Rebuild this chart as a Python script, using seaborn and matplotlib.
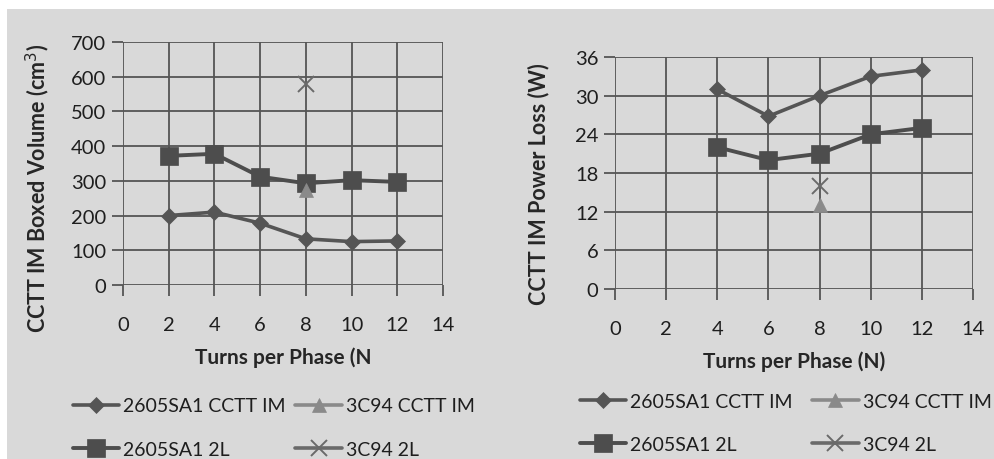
import matplotlib
matplotlib.use('Agg')
import matplotlib.pyplot as plt
from matplotlib.patches import Rectangle
import seaborn as sns

# dados
turns_vol = [2, 4, 6, 8, 10, 12]
vol_sa1_cctt = [200, 210, 178, 133, 125, 127]
vol_sa1_2l = [372, 378, 312, 293, 302, 297]
turns_3c94 = [8]
vol_3c94_cctt = [275]
vol_3c94_2l = [578]

turns_loss = [4, 6, 8, 10, 12]
loss_sa1_cctt = [31, 26.8, 30, 33, 34]
loss_sa1_2l = [22, 20, 21, 24, 25]
loss_3c94_cctt = [13]
loss_3c94_2l = [16]

labels = ['2605SA1 CCTT IM', '2605SA1 2L', '3C94 CCTT IM', '3C94 2L']

sns.set_theme(style='white')
plt.rcParams['font.family'] = ['Lato', 'DejaVu Sans']

bg = '#d9d9d9'
grid_c = '#555555'

fig = plt.figure(figsize=(9.95, 4.6), dpi=100)
fig.patch.set_facecolor(bg)
# faixas brancas (topo e borda esquerda)
fig.patches.append(Rectangle((0, 1 - 10/460), 1, 10/460, transform=fig.transFigure,
                             facecolor='white', edgecolor='none', zorder=0))
fig.patches.append(Rectangle((0, 0), 7/995, 1, transform=fig.transFigure,
                             facecolor='white', edgecolor='none', zorder=0))

ax1 = fig.add_axes([123/995, 1 - 286/460, 320/995, 243/460])
ax2 = fig.add_axes([615/995, 1 - 290/460, 358/995, 232/460])


def desenha(ax, x_a, ya, yb, x_c, yc, yd):
    sns.lineplot(x=x_a, y=ya, ax=ax, color='#555555', lw=2.6, marker='D',
                 markersize=8, markeredgecolor='#555555', markeredgewidth=0.5, zorder=4)
    sns.lineplot(x=x_a, y=yb, ax=ax, color='#4d4d4d', lw=2.8, marker='s',
                 markersize=13, markeredgecolor='#4d4d4d', markeredgewidth=0.5, zorder=4)
    sns.lineplot(x=x_c, y=yc, ax=ax, color='#8a8a8a', lw=2.6, marker='^',
                 markersize=10, markeredgecolor='#8a8a8a', markeredgewidth=0.5, zorder=5)
    sns.lineplot(x=x_c, y=yd, ax=ax, color='#6a6a6a', lw=2.6, marker='x',
                 markersize=11, markeredgecolor='#6a6a6a', markeredgewidth=1.4, zorder=5)
    ax.set_facecolor(bg)
    ax.grid(True, color=grid_c, lw=1.3)
    ax.set_axisbelow(True)
    for s in ax.spines.values():
        s.set_visible(False)
    ax.set_xlim(0, 14)
    ax.set_xticks(range(0, 15, 2))
    ax.tick_params(axis='both', direction='out', length=8, width=1.3, color=grid_c,
                   labelsize=14.5, labelcolor='#1e1e1e')
    ax.tick_params(axis='x', pad=14)
    ax.tick_params(axis='y', pad=4)
    ax.tick_params(left=True, bottom=True)
    return ax


desenha(ax1, turns_vol, vol_sa1_cctt, vol_sa1_2l, turns_3c94, vol_3c94_cctt, vol_3c94_2l)
ax1.set_ylim(0, 700)
ax1.set_yticks(range(0, 701, 100))
ax1.set_ylabel('CCTT IM Boxed Volume (cm$^3$)', fontsize=15.5, fontweight='bold')
ax1.yaxis.set_label_coords(-0.222, 0.40)
ax1.set_xlabel('Turns per Phase (N', fontsize=15, fontweight='bold', labelpad=10)

desenha(ax2, turns_loss, loss_sa1_cctt, loss_sa1_2l, turns_3c94, loss_3c94_cctt, loss_3c94_2l)
ax2.set_ylim(0, 36)
ax2.set_yticks(range(0, 37, 6))
ax2.set_ylabel('CCTT IM Power Loss (W)', fontsize=15.5, fontweight='bold')
ax2.yaxis.set_label_coords(-0.182, 0.457)
ax2.set_xlabel('Turns per Phase (N)', fontsize=15, fontweight='bold', labelpad=10)

for ax, anchor, cs in [(ax1, (55/995, 1 - 381/460), 0.5), (ax2, (562/995, 1 - 376/460), 1.0)]:
    handles = ax.get_lines()[:4]
    ax.legend(handles, labels, ncol=2, loc='upper left', bbox_to_anchor=anchor,
              bbox_transform=fig.transFigure, frameon=False, fontsize=14,
              handlelength=2.4, handletextpad=0.2, labelspacing=1.35,
              columnspacing=cs, labelcolor='#1e1e1e')

fig.savefig('out.png', dpi=100, facecolor=fig.get_facecolor())
